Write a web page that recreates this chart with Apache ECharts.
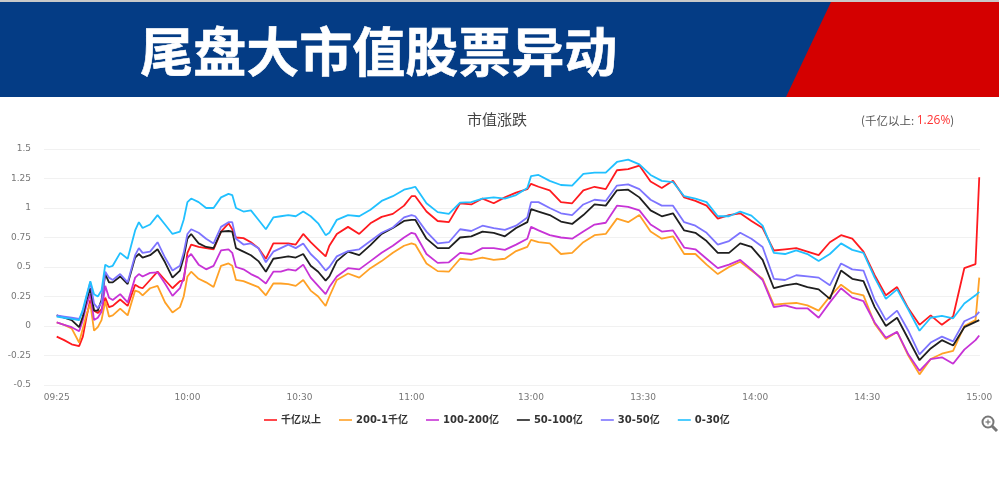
<!DOCTYPE html>
<html><head><meta charset="utf-8">
<style>html,body{margin:0;padding:0;background:#fff}#c{width:999px;height:492px}</style>
<script src="https://cdn.jsdelivr.net/npm/echarts@6/dist/echarts.min.js"></script>
</head><body><div id="c"></div>
<script>
const steps=[0,2,4,6,7,8,9,10,11,12,13,14,15,17,19,21,22,23,25,27,29,31,33,34,35,36,38,40,42,44,46,47,48,50,52,54,56,58,60,62,64,66,68,70,72,73,75,
78,81,84,87,90,93,95,96,99,102,105,108,111,114,117,120,123,126,127,129,132,135,138,141,144,147,150,153,156,159,162,
165,168,171,174,177,180,183,186,189,192,195,198,201,204,207,210,213,216,219,222,225,228,231,234,237,240,243,246,247];
const tickSteps=[0,35,65,95,127,157,187,217,247];
const tickLabels=['09:25','10:00','10:30','11:00','13:00','13:30','14:00','14:30','15:00'];
const seriesNames=['千亿以上','200-1千亿','100-200亿','50-100亿','30-50亿','0-30亿'];
const big=[-.09,-.12,-.155,-.17,-.09,.08,.22,.13,.11,.14,.24,.16,.17,.225,.17,.35,.33,.32,.39,.46,.39,.32,.38,.385,.62,.69,.67,.66,.65,.80,.87,.82,.75,.745,.71,.66,.57,.70,.70,.70,.69,.78,.71,.65,.59,.68,.78,
.84,.78,.87,.925,.95,1.02,1.10,1.10,.97,.89,.88,1.04,1.03,1.08,1.04,1.09,1.13,1.16,1.205,1.18,1.15,1.05,1.04,1.15,1.18,1.16,1.32,1.33,1.36,1.225,1.17,
1.23,1.09,1.06,1.02,.91,.94,.955,.89,.83,.64,.65,.66,.63,.60,.71,.77,.74,.63,.43,.26,.33,.15,.01,.09,.01,.08,.49,.525,1.26];
const b200=[.03,.01,-.02,-.14,-.02,.10,.19,-.04,-.01,.05,.21,.08,.09,.147,.09,.30,.29,.26,.32,.34,.20,.115,.16,.25,.42,.46,.40,.37,.33,.51,.53,.51,.39,.38,.355,.33,.26,.36,.36,.355,.34,.39,.30,.25,.17,.25,.39,
.445,.41,.49,.55,.62,.68,.70,.69,.53,.465,.46,.57,.56,.58,.56,.57,.635,.67,.73,.71,.70,.61,.62,.71,.77,.78,.91,.88,.94,.80,.74,
.76,.61,.61,.52,.44,.50,.545,.47,.40,.18,.19,.195,.175,.13,.25,.35,.28,.26,.02,-.11,-.05,-.25,-.41,-.28,-.235,-.21,.0,.05,.41];
const b100=[.03,.01,-.01,-.045,.05,.18,.27,.05,.07,.12,.34,.24,.22,.27,.20,.41,.44,.42,.45,.455,.36,.255,.32,.41,.58,.61,.52,.48,.51,.64,.65,.62,.50,.48,.44,.41,.36,.46,.46,.48,.47,.52,.41,.34,.27,.33,.42,
.49,.48,.55,.62,.68,.75,.79,.78,.61,.535,.54,.62,.61,.66,.66,.645,.69,.74,.84,.81,.77,.75,.74,.80,.86,.875,1.02,1.01,.98,.86,.80,
.81,.665,.65,.57,.49,.52,.56,.48,.39,.16,.175,.15,.15,.07,.20,.32,.24,.21,.03,-.10,-.05,-.24,-.38,-.28,-.265,-.32,-.20,-.12,-.08];
const b50=[.09,.07,.05,-.01,.08,.22,.32,.13,.13,.22,.44,.37,.37,.42,.355,.58,.61,.58,.60,.65,.54,.41,.47,.58,.74,.78,.70,.67,.66,.80,.805,.80,.66,.63,.60,.55,.46,.57,.58,.59,.58,.61,.51,.46,.385,.42,.55,
.63,.60,.685,.78,.83,.89,.90,.90,.74,.66,.66,.75,.76,.80,.79,.76,.83,.88,.99,.97,.94,.885,.865,.94,1.03,1.02,1.15,1.155,1.09,.98,.93,
.955,.81,.79,.72,.62,.62,.70,.67,.56,.32,.345,.36,.33,.31,.23,.47,.40,.38,.16,.0,.07,-.11,-.29,-.19,-.12,-.165,-.01,.035,.05];
const b30=[.09,.08,.07,.06,.12,.25,.37,.19,.15,.20,.46,.41,.39,.44,.37,.60,.66,.62,.63,.71,.58,.47,.51,.62,.78,.82,.79,.74,.70,.84,.88,.88,.74,.69,.70,.66,.54,.63,.66,.69,.66,.70,.61,.55,.47,.50,.59,
.635,.65,.72,.79,.835,.92,.94,.93,.80,.70,.71,.82,.805,.85,.83,.815,.85,.92,1.05,1.05,1.0,.955,.94,1.03,1.07,1.06,1.19,1.20,1.16,1.07,1.02,
1.02,.88,.85,.79,.69,.72,.79,.74,.67,.40,.39,.43,.42,.41,.345,.53,.48,.47,.22,.05,.13,-.04,-.24,-.14,-.09,-.13,.04,.085,.12];
const b0=[.08,.07,.06,.05,.14,.26,.38,.27,.25,.30,.52,.50,.51,.62,.57,.81,.88,.83,.86,.94,.86,.78,.80,.90,1.05,1.08,1.05,1.0,1.0,1.09,1.12,1.11,1.0,.97,.98,.90,.82,.92,.93,.94,.93,.97,.93,.87,.77,.79,.90,
.94,.93,.985,1.06,1.10,1.155,1.17,1.18,1.04,.965,.95,1.045,1.05,1.08,1.09,1.08,1.11,1.17,1.27,1.28,1.23,1.195,1.19,1.29,1.30,1.30,1.39,1.41,1.37,1.28,1.23,
1.22,1.10,1.08,1.05,.93,.93,.97,.935,.85,.62,.61,.64,.61,.55,.61,.70,.645,.62,.41,.23,.31,.14,-.04,.07,.085,.065,.19,.26,.29];
const seriesValues=[big,b200,b100,b50,b30,b0];
const seriesColors=['#ff1a1f','#ffa126','#c733d6','#1f1f1f','#7d74ff','#21c0ff'];
const chart=echarts.init(document.getElementById('c'),null,{renderer:'canvas'});
const font='"DejaVu Sans",sans-serif';
chart.setOption({
 animation:false,backgroundColor:'#fff',
 title:[
  {text:'市值涨跌',left:492,top:107,textAlign:'center',textStyle:{fontSize:15,fontWeight:'normal',color:'#444',fontFamily:'"Noto Sans CJK SC"'}},
  {text:'{a|(千亿以上: }{b|1.26%}{a|)}',left:856,top:110,textStyle:{fontWeight:'normal',rich:{a:{fontSize:11.5,fontWeight:'normal',color:'#555',fontFamily:'"Noto Sans CJK SC"'},b:{fontSize:12,fontWeight:'normal',color:'#f33',fontFamily:'"Open Sans"'}}}}
 ],
 legend:{data:seriesNames,left:259,top:410,itemWidth:13,itemHeight:8,itemGap:18,icon:'path://M0 0H13V1.6H0Z',
  textStyle:{fontSize:10,color:'#333',fontWeight:'bold',fontFamily:'"DejaVu Sans","Noto Sans CJK SC"',padding:[0,0,0,-1]}},
 grid:{left:44,right:19,top:149,bottom:107},
 xAxis:{type:'value',min:-3.4,max:247.2,splitLine:{show:false},axisLine:{show:false},axisTick:{show:false},
  axisLabel:{customValues:tickSteps,fontSize:9,color:'#777',margin:8,fontFamily:font,formatter:v=>tickLabels[tickSteps.indexOf(v)]}},
 yAxis:{type:'value',min:-0.5,max:1.5,interval:0.25,axisLine:{show:false},axisTick:{show:false},
  axisLabel:{fontSize:9,color:'#777',margin:13,fontFamily:font},splitLine:{lineStyle:{color:'#f1f1f1',width:1}}},
 series:seriesNames.map((name,k)=>({name,type:'line',symbol:'none',smooth:false,lineStyle:{width:1.8,color:seriesColors[k]},itemStyle:{color:seriesColors[k]},
   data:steps.map((s,j)=>[s,seriesValues[k][j]])})),
 graphic:[
  {type:'rect',shape:{x:0,y:0,width:999,height:2},style:{fill:'#c9c9c9'},silent:true},
  {type:'rect',shape:{x:0,y:2,width:999,height:95},style:{fill:'#043c85'},silent:true},
  {type:'polygon',shape:{points:[[831,2],[999,2],[999,97],[786,97]]},style:{fill:'#d40000'},silent:true},
  {type:'text',left:140,top:25,style:{text:'尾盘大市值股票异动',fill:'#fff',stroke:'#fff',lineWidth:0.6,font:'bold 53px "Noto Sans CJK SC"'},silent:true},
  {type:'group',left:980,top:414,silent:true,children:[
   {type:'circle',shape:{cx:7,cy:7,r:5.5},style:{fill:'none',stroke:'#777',lineWidth:2}},
   {type:'line',shape:{x1:11,y1:11,x2:16,y2:16},style:{stroke:'#777',lineWidth:3}},
   {type:'line',shape:{x1:4.5,y1:7,x2:9.5,y2:7},style:{stroke:'#777',lineWidth:1.2}},
   {type:'line',shape:{x1:7,y1:4.5,x2:7,y2:9.5},style:{stroke:'#777',lineWidth:1.2}}
  ]}
 ]
});
</script></body></html>
